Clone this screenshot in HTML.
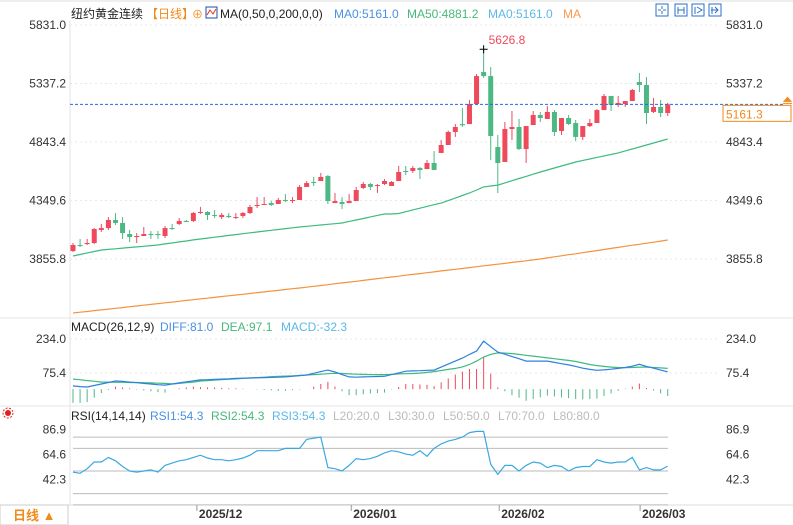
<!DOCTYPE html>
<html><head><meta charset="utf-8"><style>
body{margin:0;background:#fff;}
svg{display:block;font-family:"Liberation Sans","Noto Sans CJK SC",sans-serif;}
</style></head><body>
<svg id="c" width="793" height="525" viewBox="0 0 793 525">
<rect x="0" y="0" width="793" height="525" fill="#fff"/>
<line x1="0" y1="1" x2="793" y2="1" stroke="#ddd"/>
<g font-size="12">
<text x="71" y="18" fill="#222">纽约黄金连续</text>
<text x="146" y="18" fill="#f08a1c">【日线】</text>
<text x="192" y="18" fill="#f08a1c" font-size="11">⊕</text>
<rect x="206" y="7" width="11" height="11" fill="#fff" stroke="#1a4fa8"/>
<polyline points="207,15 210,10 213,14 216,9" fill="none" stroke="#e03030" stroke-width="1"/>
<text x="220" y="18" fill="#222">MA(0,50,0,200,0,0)</text>
<text x="334" y="18" fill="#4a90e2">MA0:5161.0</text>
<text x="407" y="18" fill="#47b87a">MA50:4881.2</text>
<text x="488" y="18" fill="#5bb8e8">MA0:5161.0</text>
<text x="563" y="18" fill="#f59a50">MA</text>
</g>
<g stroke="#2a6fc9" fill="none">
<rect x="656" y="4" width="12" height="12"/>
<rect x="675" y="4" width="12" height="12"/>
<rect x="692" y="4" width="12" height="12"/>
<rect x="709" y="4" width="12" height="12"/>
<path d="M662 6v3M662 11v3M658 10h3M663 10h3M678 7v7M684 7v7M678 10h6M695 7v7M697 7l5 3l-5 3M711 10h6M715 7l3 3l-3 3M712 7v7" />
</g>
<g id="grid"></g>
<g id="main"></g>
<g id="macd"></g>
<g id="rsi"></g>
<g font-size="12">
<text x="71" y="331" fill="#222">MACD(26,12,9)</text>
<text x="160" y="331" fill="#4a90e2">DIFF:81.0</text>
<text x="221" y="331" fill="#47b87a">DEA:97.1</text>
<text x="281" y="331" fill="#5bb8e8">MACD:-32.3</text>
</g>
<g font-size="12">
<text x="71" y="420" fill="#222">RSI(14,14,14)</text>
<text x="150" y="420" fill="#4a90e2">RSI1:54.3</text>
<text x="211" y="420" fill="#47b87a">RSI2:54.3</text>
<text x="272" y="420" fill="#5bb8e8">RSI3:54.3</text>
<text x="333" y="420" fill="#bbb">L20:20.0</text>
<text x="388" y="420" fill="#bbb">L30:30.0</text>
<text x="443" y="420" fill="#bbb">L50:50.0</text>
<text x="498" y="420" fill="#bbb">L70:70.0</text>
<text x="553" y="420" fill="#bbb">L80:80.0</text>
</g>
<g>
<circle cx="8" cy="413" r="3" fill="#e02020"/><circle cx="8" cy="413" r="5" fill="none" stroke="#e02020" stroke-dasharray="2 1.5"/>
</g>
<g>
<rect x="0" y="505" width="68" height="20" fill="#fff" stroke="#ccc"/>
<text x="13" y="520" fill="#f08a1c" font-size="13" font-weight="bold">日线 ▲</text>
</g>
<g id="xaxis"></g>
</svg>
<script>
const ohlc = [
[3923,3991,3915,3974],[3974,4025,3957,3966],[3982,4025,3974,3991],[3991,4117,3982,4109],[4101,4151,4084,4117],
[4117,4210,4101,4185],[4185,4244,4143,4160],[4160,4210,4025,4075],[4067,4101,3999,4041],[4041,4075,3991,4050],
[4050,4126,4050,4067],[4067,4092,4025,4058],[4067,4092,4025,4058],[4050,4134,4033,4117],[4117,4151,4101,4109],
[4151,4202,4143,4177],[4177,4185,4168,4168],[4177,4253,4168,4244],[4244,4295,4236,4253],[4253,4260,4185,4227],
[4227,4269,4202,4219],[4210,4244,4193,4227],[4219,4244,4202,4210],[4202,4244,4193,4210],[4219,4253,4202,4244],
[4244,4312,4236,4295],[4303,4379,4286,4312],[4312,4379,4312,4320],[4328,4345,4303,4312],[4320,4371,4320,4354],
[4354,4404,4337,4345],[4345,4379,4328,4354],[4354,4480,4354,4464],[4464,4514,4464,4497],[4506,4548,4472,4497],
[4514,4582,4514,4548],[4556,4565,4320,4345],[4328,4413,4328,4345],[4337,4379,4278,4320],[4328,4404,4328,4345],
[4345,4464,4345,4438],[4455,4506,4447,4489],[4489,4497,4438,4464],[4472,4489,4413,4480],[4489,4531,4480,4514],
[4472,4514,4472,4506],[4514,4641,4514,4590],[4599,4641,4565,4590],[4599,4641,4582,4624],[4624,4632,4531,4607],
[4615,4691,4615,4666],[4666,4767,4607,4607],[4751,4860,4751,4818],[4818,4940,4818,4928],[4928,4995,4886,4970],
[4995,5130,4970,4985],[4995,5198,4995,5164],[5164,5417,5156,5400],[5434,5626.8,5384,5400],[5400,5476,4691,4894],
[4801,4902,4413,4666],[4675,5012,4675,4953],[4953,5105,4860,4970],[4970,5038,4776,4784],[4784,4978,4666,4978],
[4987,5105,4987,5071],[5071,5097,5012,5046],[5038,5147,5038,5097],[5097,5113,4894,4928],[4936,5046,4902,5046],
[5046,5071,4987,4995],[5004,5029,4852,4886],[4886,4978,4860,4978],[4978,5038,4970,5004],[5004,5121,5004,5113],
[5113,5249,5113,5232],[5232,5232,5105,5156],[5156,5232,5139,5173],[5164,5189,5139,5189],[5189,5291,5189,5282],
[5350,5426,5265,5325],[5325,5392,4995,5088],[5097,5215,5088,5139],[5139,5198,5054,5088],[5088,5173,5063,5161.3]];
const ma50 = [3881,3894,3907,3919,3932,3937,3942,3948,3953,3958,3963,3969,3974,3983,3991,4000,4008,4017,4025,4032,
4040,4047,4055,4062,4069,4077,4084,4091,4098,4105,4112,4119,4126,4132,4137,4143,4149,4154,4160,4173,
4185,4198,4211,4224,4236,4236,4240,4255,4270,4285,4300,4314,4328,4349,4370,4392,4413,4438,4464,4472,
4480,4498,4517,4535,4553,4572,4590,4607,4624,4641,4658,4675,4688,4700,4713,4726,4738,4751,4768,4784,
4801,4818,4835,4852,4869];
const ma200 = [3400,3407,3413,3420,3426,3433,3440,3446,3453,3459,3466,3473,3479,3486,3492,3499,3506,3512,3519,3525,
3532,3539,3545,3552,3558,3565,3572,3578,3585,3591,3598,3605,3611,3618,3625,3632,3639,3647,3654,3661,
3668,3675,3683,3690,3697,3704,3711,3719,3726,3733,3740,3747,3755,3762,3769,3776,3783,3791,3798,3805,
3812,3819,3827,3834,3841,3848,3856,3865,3874,3883,3892,3900,3909,3918,3927,3936,3945,3954,3963,3972,
3980,3989,3998,4007,4016];
const diff = [15,12,10,17,24,31,38,36,33,30,27,24,21,19,24,29,34,39,43,44,
46,47,48,50,51,52,53,54,55,56,57,60,63,66,74,82,89,80,68,57,
56,57,58,59,60,68,76,84,85,86,88,89,103,117,131,145,162,178,224,198,
173,163,152,142,131,131,131,131,125,119,113,106,98,92,88,90,93,97,101,107,
116,106,98,89,81];
const dea = [47,44,40,37,33,33,32,32,31,31,30,29,28,27,24,27,30,33,38,40,
42,44,46,48,50,52,54,56,58,60,61,62,64,66,68,70,72,74,73,71,
70,69,68,68,68,69,71,72,73,75,78,82,87,92,97,104,115,131,150,162,
169,168,166,162,158,154,150,146,142,138,134,129,122,115,110,106,103,101,100,101,
103,103,101,99,97];
const rsi = [49,48,52,58,58,62,59,54,50,49,50,51,49,55,57,59,60,62,64,61.5,
60,60,59,60,61.5,64,68,68,68,68,70,70,70,78,79,80,53,52,50,55,
61,60,61,63,66,68,67,65,64,68,63,70,74,76.5,78,80,84,85,85,56,
47,55,55,50,55,58,57,53,55,54,50,53,54,54,60,58,57,58,58,62,
51,53,51,51,54.3];
const priceTicks = [5831.0,5337.2,4843.4,4349.6,3855.8];
const macdTicks = [234.0,75.4];
const rsiTicks = [86.9,64.6,42.3];
const rsiLevels = [80,70,50,30,20];
const dateLabels = ["2025/12","2026/01","2026/02","2026/03"];
const dateIndex = [17.5,39.3,60.2,80.1];
const lastPrice = 5161.3;
const highLabel = "5626.8";

const NS="http://www.w3.org/2000/svg";
function mk(p,t,a){const e=document.createElementNS(NS,t);for(const k in a)e.setAttribute(k,a[k]);p.appendChild(e);return e;}
const X = i => 73 + i*7.08;
const PY = v => 25 + (5831 - v)*0.11847;
const MY = v => 373 - (v - 75.4)*0.2144;
const RY = v => 471 - (v - 50)*1.13;
const grid=document.getElementById('grid'),main=document.getElementById('main'),macd=document.getElementById('macd'),rsiG=document.getElementById('rsi'),xa=document.getElementById('xaxis');

// frame
let e;
e=mk(grid,'line',{x1:70,y1:20,x2:70,y2:505,stroke:'#e3e3e3'});


e=mk(grid,'line',{x1:0,y1:318,x2:793,y2:318,stroke:'#e6e6e6'});


e=mk(grid,'line',{x1:0,y1:406,x2:793,y2:406,stroke:'#e6e6e6'});


e=mk(grid,'line',{x1:0,y1:505,x2:793,y2:505,stroke:'#ddd'});



// price ticks
priceTicks.forEach(v=>{const y=PY(v);
 e=mk(grid,'line',{x1:70,y1:y,x2:720,y2:y,stroke:'#e8e8e8','stroke-dasharray':'2 3'});
 
 
 e=mk(grid,'text',{x:66,y:y+4,'text-anchor':'end','font-size':12,fill:'#333'});e.textContent=v.toFixed(1);
 
 
 e=mk(grid,'text',{x:726,y:y+4,'font-size':12,fill:'#333'});e.textContent=v.toFixed(1);
 
 
});
macdTicks.forEach(v=>{const y=MY(v);
 e=mk(grid,'line',{x1:70,y1:y,x2:720,y2:y,stroke:'#e8e8e8','stroke-dasharray':'2 3'});
 
 
 e=mk(grid,'text',{x:66,y:y+4,'text-anchor':'end','font-size':12,fill:'#333'});e.textContent=v.toFixed(1);
 
 
 e=mk(grid,'text',{x:726,y:y+4,'font-size':12,fill:'#333'});e.textContent=v.toFixed(1);
 
 
});
rsiTicks.forEach(v=>{const y=RY(v);
 e=mk(grid,'text',{x:66,y:y+4,'text-anchor':'end','font-size':12,fill:'#333'});e.textContent=v.toFixed(1);
 
 
 e=mk(grid,'text',{x:726,y:y+4,'font-size':12,fill:'#333'});e.textContent=v.toFixed(1);
 
 
});
rsiLevels.forEach(v=>{const y=RY(v);
 e=mk(grid,'line',{x1:73,y1:y,x2:668,y2:y,stroke:'#bbb'});
 
 
});

// MA lines
function poly(g,arr,fy,col,name){const pts=arr.map((v,i)=>X(i).toFixed(1)+','+fy(v).toFixed(1)).join(' ');
 const p=mk(g,'polyline',{points:pts,fill:'none',stroke:col,'stroke-width':1.2});
 
 }
poly(main,ma200,PY,'#f5923e','ma200-line');
poly(main,ma50,PY,'#3dbb7e','ma50-line');

// candles
ohlc.forEach((d,i)=>{const [o,h,l,c]=d;const up=c>=o;const col=up?'#ee4a5c':'#4db884';const x=X(i);
 const g=mk(main,'g',{});
 
 
 mk(g,'line',{x1:x,y1:PY(h),x2:x,y2:PY(l),stroke:col,'stroke-width':1});
 const t=PY(Math.max(o,c)),b=PY(Math.min(o,c));
 mk(g,'rect',{x:x-2.5,y:t,width:5,height:Math.max(1,b-t),fill:col});
});
// last price line
const ly=PY(lastPrice);
e=mk(main,'line',{x1:70,y1:ly,x2:785,y2:ly,stroke:'#1e6fe0','stroke-dasharray':'3 2'});


e=mk(main,'rect',{x:723,y:ly+1,width:68,height:16,fill:'#fff',stroke:'#f08a1c'});


e=mk(main,'text',{x:726,y:ly+14,'font-size':12,fill:'#f08a1c'});e.textContent=lastPrice.toFixed(1);


e=mk(main,'path',{d:`M783 ${ly-1}h9M784 ${ly-3}l3.5 -4l3.5 4z`,fill:'#f08a1c',stroke:'#f08a1c'});


// high marker
let hi=0;ohlc.forEach((d,i)=>{if(d[1]>ohlc[hi][1])hi=i;});
const hx=X(hi),hy=PY(ohlc[hi][1]);
e=mk(main,'path',{d:`M${hx-4} ${hy}h8M${hx} ${hy-4}v8`,stroke:'#000','stroke-width':1});


e=mk(main,'text',{x:hx+5,y:hy-5,'font-size':12,fill:'#ee4a5c'});e.textContent=highLabel;



// MACD histogram
const z=MY(0);
diff.forEach((v,i)=>{const h=2*(v-dea[i]);const y=MY(h);
 const b=mk(macd,'line',{x1:X(i),y1:z,x2:X(i),y2:y,stroke:h>=0?'#ee4a5c':'#4db884','stroke-width':1});
 
 
});
poly(macd,dea,MY,'#3dbb7e','dea-line');
poly(macd,diff,MY,'#2f7fe0','diff-line');
poly(rsiG,rsi,RY,'#3aa8e0','rsi-line');

// x axis
dateLabels.forEach((s,k)=>{const x=X(dateIndex[k]);
 e=mk(xa,'line',{x1:x,y1:505,x2:x,y2:511,stroke:'#999'});
 
 
 e=mk(xa,'text',{x:x+2,y:518,'font-size':12,'font-weight':'bold',fill:'#333'});e.textContent=s;
 
 
});
</script>
</body></html>
